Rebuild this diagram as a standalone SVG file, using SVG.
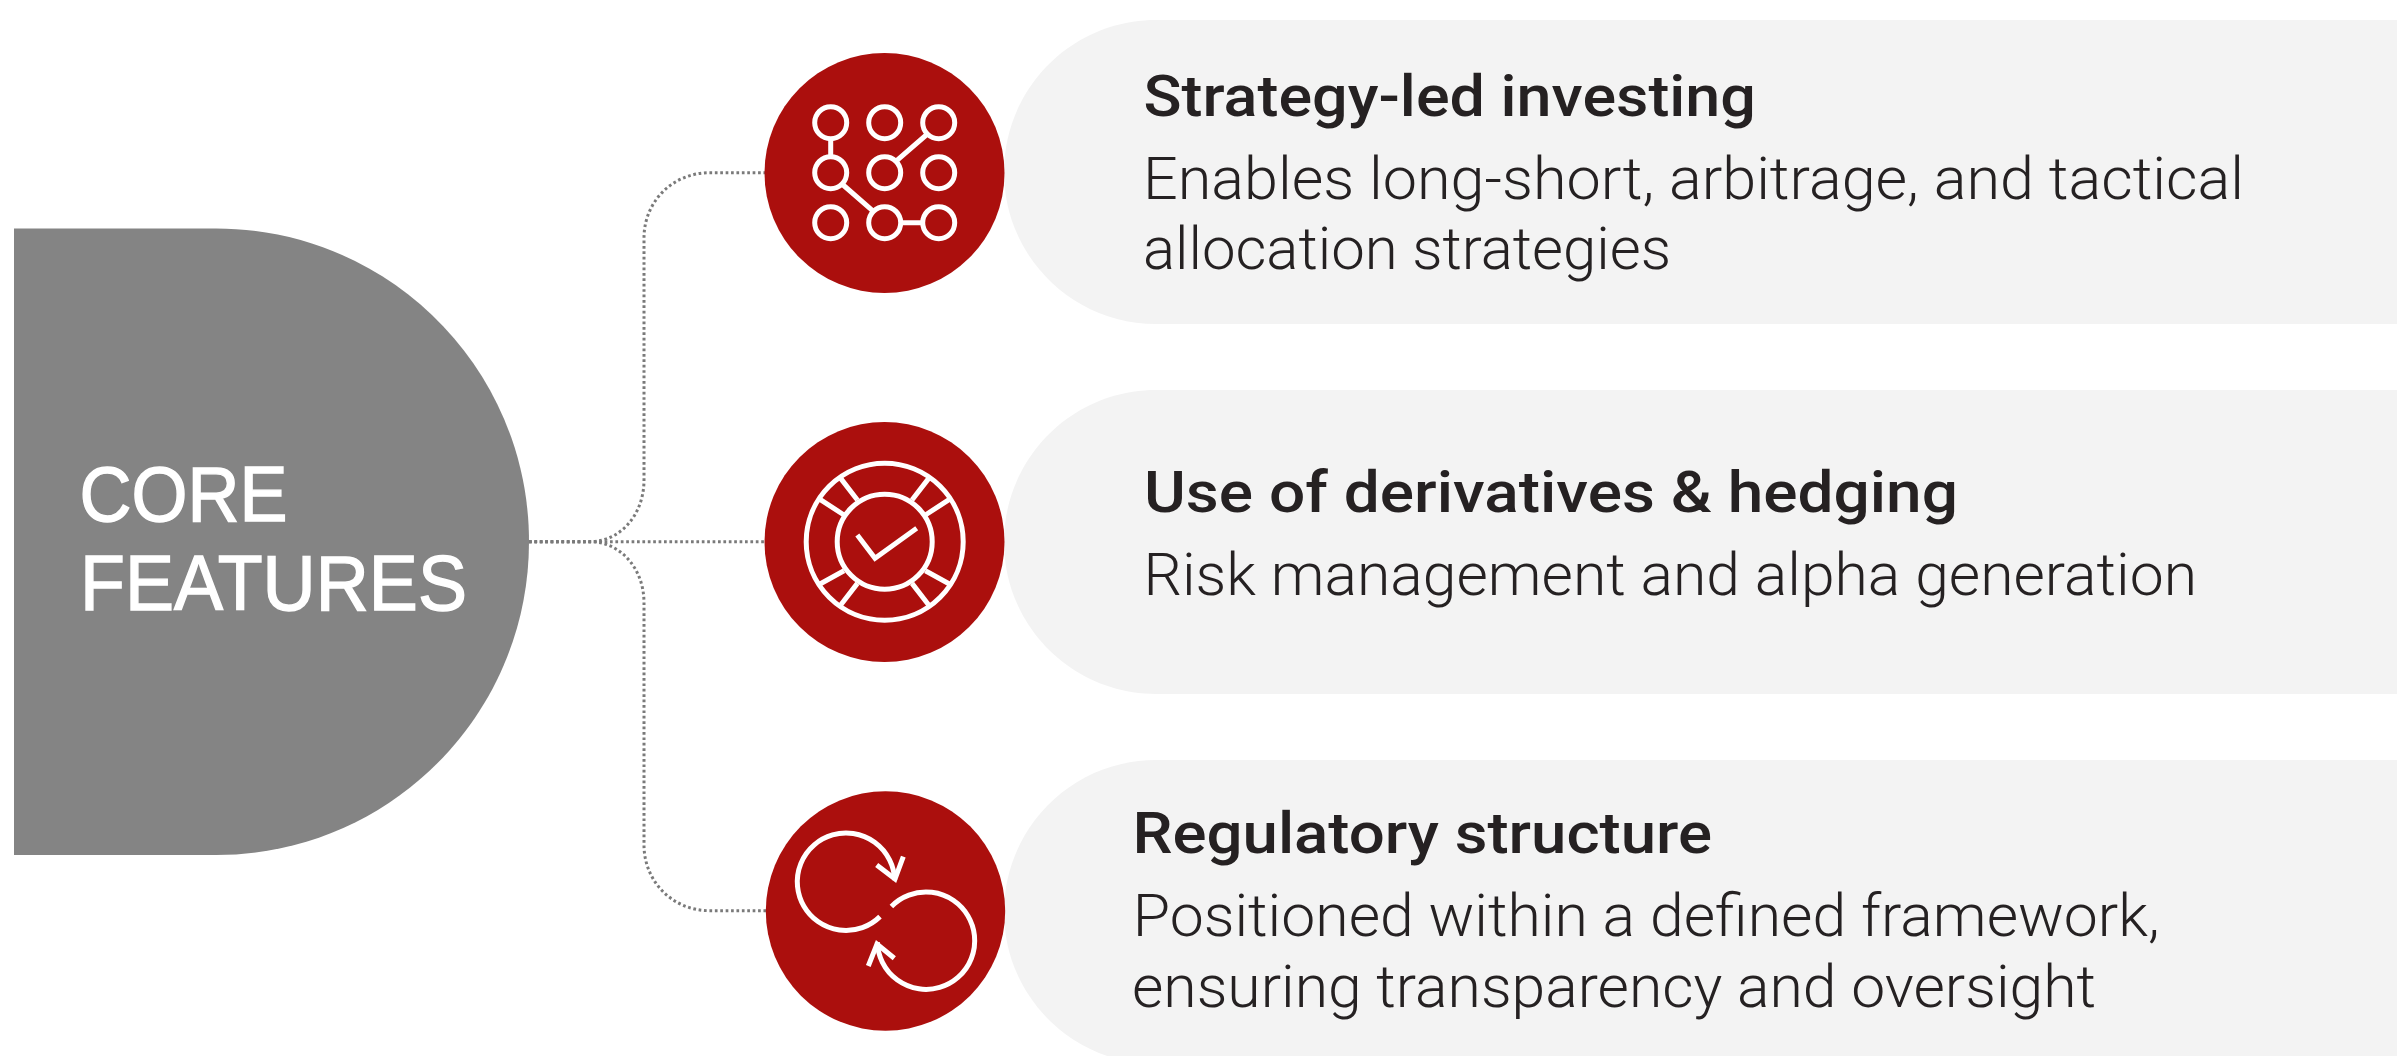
<svg xmlns="http://www.w3.org/2000/svg" width="2397" height="1056" viewBox="0 0 2397 1056">
<style>
.panel{fill:#f3f3f3}
.disc{fill:#ab0f0d}
.ico{fill:none;stroke:#fff;stroke-width:5}
.dot{fill:none;stroke:#7a7a7a;stroke-width:3;stroke-dasharray:2.7 2.7}
.h{font-family:"Roboto","Liberation Sans",sans-serif;font-weight:500;font-size:57.5px;fill:#252122}
.b{font-family:"Roboto","Liberation Sans",sans-serif;font-weight:300;font-size:58.5px;fill:#252122}
.c{font-family:"Liberation Sans",sans-serif;font-size:77px;fill:#fff;stroke:#fff;stroke-width:1.4}
</style>
<rect width="2397" height="1056" fill="#fff"/>
<g id="connectors">
<path class="dot" d="M529 541.7H765"/>
<path class="dot" d="M529 541.7H590C620 541.7 644 515 644 480V238C644 202 672 172.7 710 172.7H765"/>
<path class="dot" d="M529 541.7H590C620 541.7 644 568 644 603V845C644 881 672 910.7 710 910.7H766"/>
</g>
<g id="core">
<path d="M14 228.5H216C389 228.5 529 368.7 529 541.7S389 855 216 855H14Z" fill="#848484"/>
<text class="c" x="79.5" y="520.7" textLength="208" lengthAdjust="spacingAndGlyphs">CORE</text>
<text class="c" x="80" y="610" textLength="387" lengthAdjust="spacingAndGlyphs">FEATURES</text>
</g>
<g id="feature-1">
<path class="panel" d="M2397 20H1156C1072 20 1004 88 1004 172S1072 324 1156 324H2397Z"/>
<circle class="disc" cx="884.5" cy="173" r="120"/>
<g class="ico">
<circle cx="830.7" cy="122.7" r="16"/><circle cx="884.7" cy="122.7" r="16"/><circle cx="938.7" cy="122.7" r="16"/>
<circle cx="830.7" cy="172.7" r="16"/><circle cx="884.7" cy="172.7" r="16"/><circle cx="938.7" cy="172.7" r="16"/>
<circle cx="830.7" cy="222.7" r="16"/><circle cx="884.7" cy="222.7" r="16"/><circle cx="938.7" cy="222.7" r="16"/>
<path d="M830.7 138.7V156.7M842 184L873.4 211.4M895.8 161.3L927.4 134M900.7 222.7H922.7"/>
</g>
<text class="h" x="1143.5" y="115.7" textLength="612.5" lengthAdjust="spacingAndGlyphs">Strategy-led investing</text>
<text class="b" x="1143" y="199" textLength="1101" lengthAdjust="spacingAndGlyphs">Enables long-short, arbitrage, and tactical</text>
<text class="b" x="1143" y="269" textLength="528" lengthAdjust="spacingAndGlyphs">allocation strategies</text>
</g>
<g id="feature-2">
<path class="panel" d="M2397 390H1156C1072 390 1004 458 1004 542S1072 694 1156 694H2397Z"/>
<circle class="disc" cx="884.5" cy="542" r="120"/>
<g class="ico">
<circle cx="884.7" cy="541.7" r="78.5"/><circle cx="884.7" cy="541.7" r="47.5"/>
<path d="M840.7 478.4L857.4 500M820 499.4L844 515M928.7 478.4L912 500M949.4 499.4L925.4 515M820 584L844 570.7M840.7 605L857.4 583.4M928.7 605L912 583.4M949.4 584L925.4 570.7"/>
<path d="M857.3 535L875 558.3L916.7 528.3"/>
</g>
<text class="h" x="1144" y="511.7" textLength="814" lengthAdjust="spacingAndGlyphs">Use of derivatives &amp; hedging</text>
<text class="b" x="1143.4" y="595" textLength="1053.6" lengthAdjust="spacingAndGlyphs">Risk management and alpha generation</text>
</g>
<g id="feature-3">
<path class="panel" d="M2397 760H1156C1072 760 1004 828 1004 912S1072 1064 1156 1064H2397Z"/>
<circle class="disc" cx="885.5" cy="911" r="119.7"/>
<g class="ico">
<path d="M880 916.6A48.7 48.7 0 1 1 894.67 880.07"/>
<path d="M876.7 865L895 879L903.3 856.7"/>
<path d="M891.4 906.4A48.7 48.7 0 1 1 877.33 942.2"/>
<path d="M894.3 958.3L877 944L868.3 966"/>
</g>
<text class="h" x="1132.5" y="852.7" textLength="579.5" lengthAdjust="spacingAndGlyphs">Regulatory structure</text>
<text class="b" x="1132.7" y="936" textLength="1027" lengthAdjust="spacingAndGlyphs">Positioned within a defined framework,</text>
<text class="b" x="1132" y="1006.7" textLength="964" lengthAdjust="spacingAndGlyphs">ensuring transparency and oversight</text>
</g>
</svg>
